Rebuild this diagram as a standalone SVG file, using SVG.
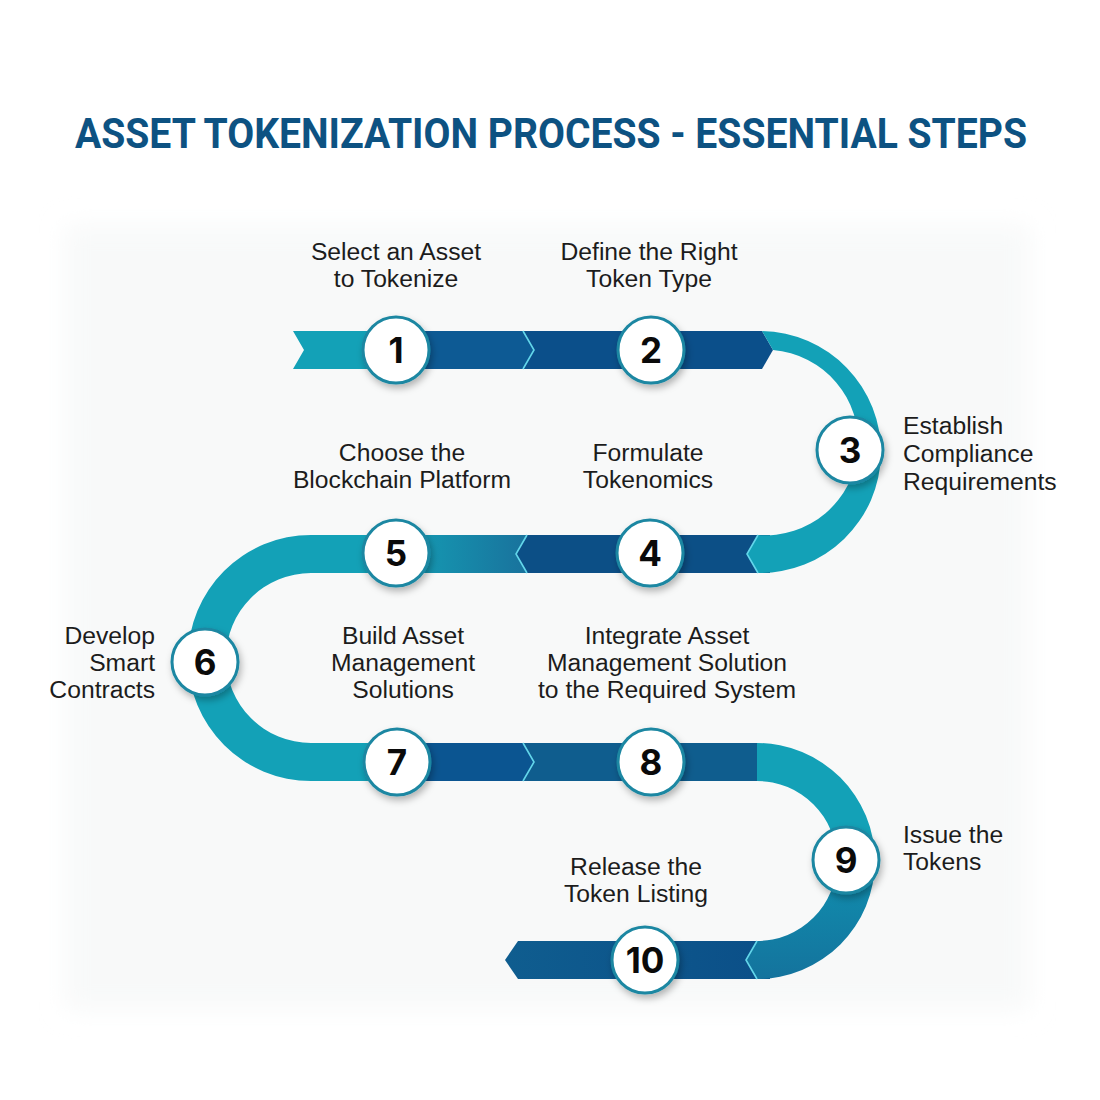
<svg xmlns="http://www.w3.org/2000/svg" width="1100" height="1100" viewBox="0 0 1100 1100">
<defs>
<style>
.title{font-family:Roboto,"Liberation Sans",sans-serif;font-weight:700;font-size:42px;fill:#0d5282}
.lbl{font-family:"Liberation Sans",Arial,sans-serif;font-size:24.7px;fill:#1c1c1c}
.num{font-family:Inter,"Liberation Sans",sans-serif;font-weight:700;font-size:35px;fill:#0a0a0a;text-anchor:middle}
.node circle{fill:#ffffff;stroke:#1c87a2;stroke-width:3}
.teal{fill:#13a1b7}
.chev{fill:none;stroke:#63d6ea;stroke-width:1.6;stroke-linejoin:miter}
</style>
<filter id="sh" x="-40%" y="-40%" width="180%" height="180%">
<feDropShadow dx="2" dy="4" stdDeviation="3.5" flood-color="#000" flood-opacity="0.28"/>
</filter>
<filter id="soft" x="-5%" y="-5%" width="110%" height="110%">
<feGaussianBlur stdDeviation="12"/>
</filter>
<linearGradient id="gE" gradientUnits="userSpaceOnUse" x1="420" y1="0" x2="530" y2="0">
<stop offset="0" stop-color="#1597b1"/>
<stop offset="1" stop-color="#19719c"/>
</linearGradient>
<linearGradient id="gArc2" gradientUnits="userSpaceOnUse" x1="0" y1="743" x2="0" y2="979">
<stop offset="0" stop-color="#13a1b7"/>
<stop offset="0.45" stop-color="#13a1b7"/>
<stop offset="0.62" stop-color="#1189ab"/>
<stop offset="1" stop-color="#14739d"/>
</linearGradient>
<linearGradient id="gH" gradientUnits="userSpaceOnUse" x1="505" y1="0" x2="770" y2="0">
<stop offset="0" stop-color="#0f5d8f"/>
<stop offset="1" stop-color="#0b4f88"/>
</linearGradient>
</defs>
<rect width="1100" height="1100" fill="#ffffff"/>
<rect x="65" y="225" width="965" height="785" fill="#f8f9f9" filter="url(#soft)"/>
<text class="title" x="75" y="148" textLength="952" lengthAdjust="spacingAndGlyphs">ASSET TOKENIZATION PROCESS - ESSENTIAL STEPS</text>

<g id="connectors">
<polygon class="teal" points="293,331 400,331 400,369 293,369 304,350"/>
<polygon fill="#0b4f8a" points="520,331 762,331 773,350 762,369 520,369"/>
<polygon fill="#0d5a94" points="396,331 523,331 534,350 523,369 396,369"/>
<polyline class="chev" points="523,331 534,350 523,369"/>
<polygon fill="url(#gE)" points="396,535 530,535 530,573 396,573"/>
<polygon fill="#0c4f86" points="770,535 527,535 516,554 527,573 770,573"/>
<polyline class="chev" points="527,535 516,554 527,573"/>
<path class="teal" d="M 762 331 A 121 121 0 0 1 758 573 L 747 554 L 758 535 A 83 83 0 0 0 773 350 L 762 331 Z"/>
<polyline class="chev" points="758,535 747,554 758,573"/>
<path class="teal" d="M 400 535 H 311 A 123 123 0 0 0 311 781 H 400 V 743 H 311 A 85 85 0 0 1 311 573 H 400 Z"/>
<polygon fill="#0f5d8e" points="520,743 757,743 757,781 520,781"/>
<polygon fill="#0b5591" points="397,743 523,743 534,762 523,781 397,781"/>
<polyline class="chev" points="523,743 534,762 523,781"/>
<polygon fill="url(#gH)" points="770,941 518,941 505,960 518,979 770,979"/>
<path fill="url(#gArc2)" d="M 757 743 A 118 118 0 0 1 757 979 L 746 960 L 757 941 A 80 80 0 0 0 757 781 Z"/>
<polyline class="chev" points="757,941 746,960 757,979"/>
</g>

<g id="node1" class="node">
<circle cx="396" cy="350" r="33" filter="url(#sh)"/>
<text class="num" x="396" y="362.5">1</text>
<text class="lbl" text-anchor="middle" x="396" y="260"><tspan x="396">Select an Asset</tspan><tspan x="396" dy="27">to Tokenize</tspan></text>
</g>
<g id="node2" class="node">
<circle cx="651" cy="350" r="33" filter="url(#sh)"/>
<text class="num" x="651" y="362.5">2</text>
<text class="lbl" text-anchor="middle" x="649" y="260"><tspan x="649">Define the Right</tspan><tspan x="649" dy="27">Token Type</tspan></text>
</g>
<g id="node3" class="node">
<circle cx="850" cy="450" r="33" filter="url(#sh)"/>
<text class="num" x="850" y="462.5">3</text>
<text class="lbl" x="903" y="434"><tspan x="903">Establish</tspan><tspan x="903" dy="28">Compliance</tspan><tspan x="903" dy="28">Requirements</tspan></text>
</g>
<g id="node4" class="node">
<circle cx="650" cy="553" r="33" filter="url(#sh)"/>
<text class="num" x="650" y="565.5">4</text>
<text class="lbl" text-anchor="middle" x="648" y="461"><tspan x="648">Formulate</tspan><tspan x="648" dy="27">Tokenomics</tspan></text>
</g>
<g id="node5" class="node">
<circle cx="396" cy="553" r="33" filter="url(#sh)"/>
<text class="num" x="396" y="565.5">5</text>
<text class="lbl" text-anchor="middle" x="402" y="461"><tspan x="402">Choose the</tspan><tspan x="402" dy="27">Blockchain Platform</tspan></text>
</g>
<g id="node6" class="node">
<circle cx="205" cy="662" r="33" filter="url(#sh)"/>
<text class="num" x="205" y="674.5">6</text>
<text class="lbl" text-anchor="end" x="155" y="644"><tspan x="155">Develop</tspan><tspan x="155" dy="27">Smart</tspan><tspan x="155" dy="27">Contracts</tspan></text>
</g>
<g id="node7" class="node">
<circle cx="397" cy="762" r="33" filter="url(#sh)"/>
<text class="num" x="397" y="774.5">7</text>
<text class="lbl" text-anchor="middle" x="403" y="644"><tspan x="403">Build Asset</tspan><tspan x="403" dy="27">Management</tspan><tspan x="403" dy="27">Solutions</tspan></text>
</g>
<g id="node8" class="node">
<circle cx="651" cy="762" r="33" filter="url(#sh)"/>
<text class="num" x="651" y="774.5">8</text>
<text class="lbl" text-anchor="middle" x="667" y="644"><tspan x="667">Integrate Asset</tspan><tspan x="667" dy="27">Management Solution</tspan><tspan x="667" dy="27">to the Required System</tspan></text>
</g>
<g id="node9" class="node">
<circle cx="846" cy="860" r="33" filter="url(#sh)"/>
<text class="num" x="846" y="872.5">9</text>
<text class="lbl" x="903" y="843"><tspan x="903">Issue the</tspan><tspan x="903" dy="27">Tokens</tspan></text>
</g>
<g id="node10" class="node">
<circle cx="645" cy="960" r="33" filter="url(#sh)"/>
<text class="num" x="645" y="972.5">10</text>
<text class="lbl" text-anchor="middle" x="636" y="875"><tspan x="636">Release the</tspan><tspan x="636" dy="27">Token Listing</tspan></text>
</g>
</svg>
